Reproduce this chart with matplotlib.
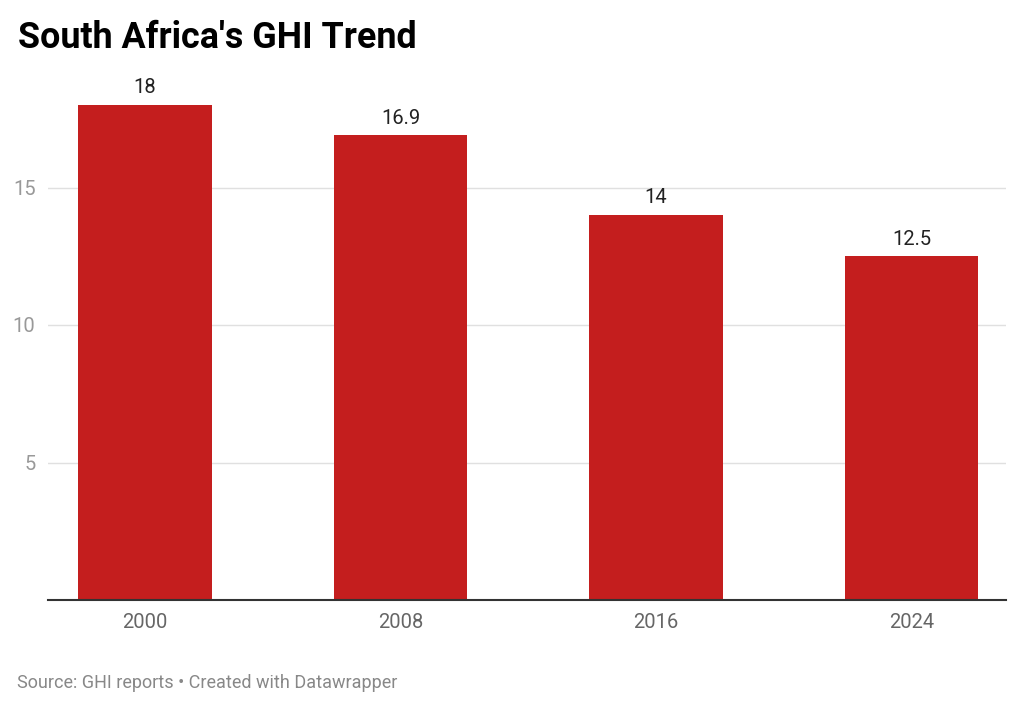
import matplotlib.pyplot as plt

# data
years = ["2000", "2008", "2016", "2024"]
ghi = [18, 16.9, 14, 12.5]
value_labels = ["18", "16.9", "14", "12.5"]
y_ticks = [5, 10, 15]

plt.rcParams['font.family'] = ['Roboto', 'DejaVu Sans']

W, H = 1024, 710
fig = plt.figure(figsize=(W / 100, H / 100), dpi=100)

# axes placed in pixel coords: left 48, right 1006, baseline 600
y_top_val = 19
px_per_unit = 27.5
top_px = 600 - y_top_val * px_per_unit
ax = fig.add_axes([48 / W, (H - 600) / H, (1006 - 48) / W, (600 - top_px) / H])

x = list(range(len(years)))
ax.bar(x, ghi, width=0.524, color='#c41e1e', zorder=3)
for xi, v, lab in zip(x, ghi, value_labels):
    ax.annotate(lab, (xi, v), xytext=(0, 5.5), textcoords='offset points',
                ha='center', va='bottom', fontsize=14.5, color='#222222')

ax.set_xlim(-0.38, 3.37)
ax.set_ylim(0, y_top_val)
ax.set_xticks(x)
ax.set_xticklabels(years)
ax.set_yticks(y_ticks)
ax.set_yticklabels([str(t) for t in y_ticks])
ax.tick_params(axis='x', length=0, pad=9, labelsize=14.5, labelcolor='#666666')
ax.tick_params(axis='y', length=0, pad=9, labelsize=14.5, labelcolor='#999999')
ax.grid(axis='y', color='#e0e0e0', linewidth=1, zorder=0)

for s in ['top', 'right', 'left']:
    ax.spines[s].set_visible(False)
ax.spines['bottom'].set_color('#333333')
ax.spines['bottom'].set_linewidth(1.5)
ax.spines['bottom'].set_zorder(4)

fig.text(18 / W, 1 - 38 / H, "South Africa's GHI Trend", fontsize=25.8,
         fontweight='bold', color='#000000', ha='left', va='center')
fig.text(17 / W, 1 - 683 / H, "Source: GHI reports \u2022 Created with Datawrapper",
         fontsize=13, color='#888888', ha='left', va='center')

fig.savefig('out.png', dpi=100)
